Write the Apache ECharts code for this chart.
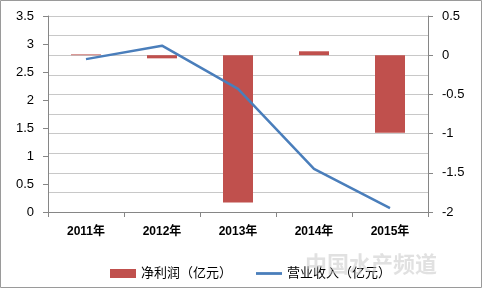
<!DOCTYPE html>
<html><head><meta charset="utf-8">
<script src="https://cdn.jsdelivr.net/npm/echarts@6/dist/echarts.min.js"></script>
<style>html,body{margin:0;padding:0;background:#fff}#c{width:482px;height:289px}</style>
</head><body><div id="c"></div>
<script>
var categories = ['2011年', '2012年', '2013年', '2014年', '2015年'];
var netProfit = [0.01, -0.04, -1.88, 0.05, -0.99];
var revenue = [2.73, 2.97, 2.2, 0.77, 0.07];
var leftTicks = [0, 3.5, 0.5];
var rightTicks = [-2, 0.5, 0.5];

var chart = echarts.init(document.getElementById('c'));
var font = 'Liberation Sans, Arial, Noto Sans CJK SC, sans-serif';
chart.setOption({
  animation: false,
  textStyle: {fontFamily: font},
  grid: {left: 48, right: 54, top: 16, bottom: 77},
  legend: {
    top: 262, left: 105, itemGap: 24, itemWidth: 26, itemHeight: 9,
    textStyle: {fontSize: 13, color: '#000', fontFamily: font},
    data: [{name: '净利润（亿元）', icon: 'rect'},
           {name: '营业收入（亿元）', icon: 'path://M0,0 H28 V3 H0 Z'}]
  },
  xAxis: {
    type: 'category', data: categories,
    axisLine: {onZero: false, lineStyle: {color: '#868686'}},
    axisTick: {show: true, length: 5, lineStyle: {color: '#868686'}},
    axisLabel: {fontSize: 12, color: '#000', margin: 14, fontWeight: 'bold'}
  },
  yAxis: [{
    type: 'value', min: leftTicks[0], max: leftTicks[1], interval: leftTicks[2],
    axisLine: {show: true, lineStyle: {color: '#868686'}},
    axisTick: {show: true, length: 5, lineStyle: {color: '#868686'}},
    axisLabel: {fontSize: 13, color: '#000', margin: 14},
    splitLine: {show: false}
  }, {
    type: 'value', min: rightTicks[0], max: rightTicks[1], interval: rightTicks[2],
    axisLine: {show: true, lineStyle: {color: '#868686'}},
    axisTick: {show: true, length: 5, lineStyle: {color: '#868686'}},
    axisLabel: {fontSize: 13, color: '#000', margin: 14},
    splitLine: {show: true, lineStyle: {color: '#c8c8c8'}},
    minorTick: {show: false, splitNumber: 2},
    minorSplitLine: {show: true, lineStyle: {color: '#c8c8c8'}}
  }],
  series: [{
    name: '净利润（亿元）', type: 'bar', yAxisIndex: 1, data: netProfit,
    barWidth: 30, itemStyle: {color: '#C0504D'}
  }, {
    name: '营业收入（亿元）', type: 'line', yAxisIndex: 0, data: revenue,
    symbol: 'none',
    lineStyle: {color: '#4A7EBB', width: 2.5}, itemStyle: {color: '#4A7EBB'}
  }],
  graphic: [{
    type: 'rect', shape: {x: 0.5, y: 0.5, width: 481, height: 287},
    style: {fill: 'none', stroke: '#9a9a9a', lineWidth: 1}, z: 100
  }, {
    type: 'text', left: 305, top: 253,
    style: {text: '中国水产频道', fontSize: 22, fontWeight: 'bold', fill: 'rgba(200,200,200,0.55)', fontFamily: 'Noto Sans CJK SC'},
    z: 101
  }]
});
</script></body></html>
